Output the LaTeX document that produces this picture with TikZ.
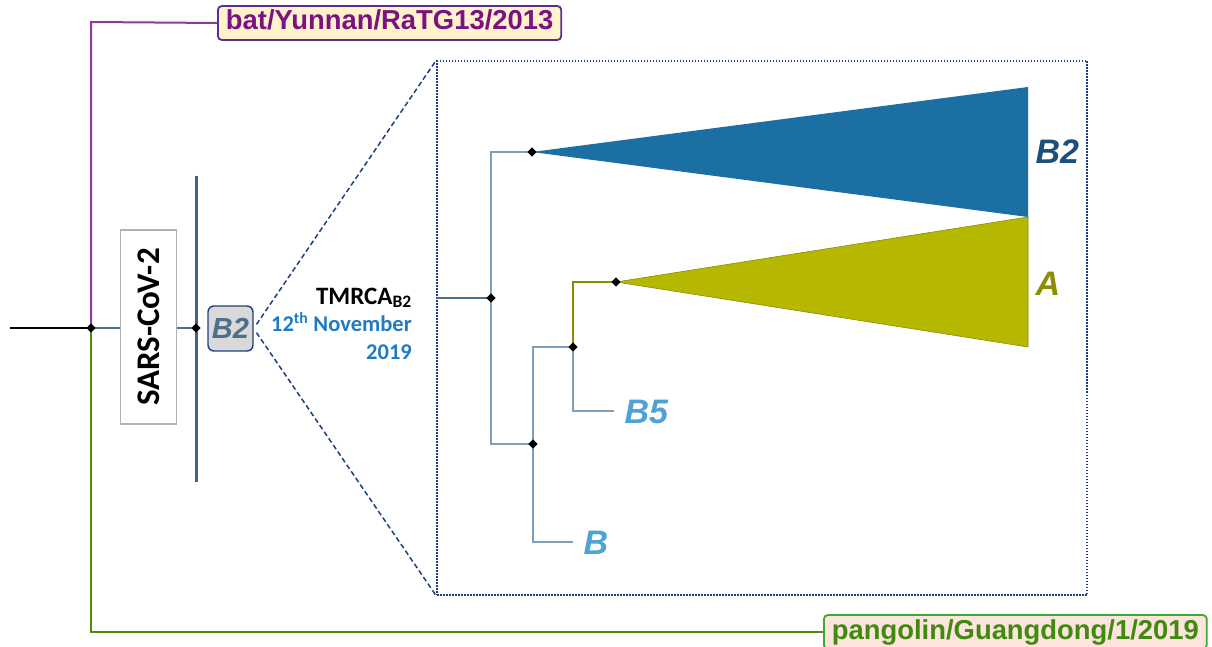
\documentclass[tikz,border=0pt]{standalone}
\usepackage{fontspec}
\setmainfont{Liberation Sans}
\newfontfamily\calibri{Carlito}
\usetikzlibrary{shapes.geometric}

\definecolor{treeline}{HTML}{7F9FB8}
\definecolor{stemline}{HTML}{4C6F8C}
\definecolor{barline}{HTML}{46647E}
\definecolor{batline}{HTML}{8B3D96}
\definecolor{battext}{HTML}{7B1280}
\definecolor{batedge}{HTML}{5B2D8F}
\definecolor{batfill}{HTML}{FFF2CC}
\definecolor{panline}{HTML}{4F8A10}
\definecolor{pantext}{HTML}{3F8A0F}
\definecolor{panedge}{HTML}{3AAA35}
\definecolor{panfill}{HTML}{FDE4DC}
\definecolor{navy}{HTML}{1F3F7F}
\definecolor{bluefill}{HTML}{1B6FA3}
\definecolor{bluelabel}{HTML}{1D4F7A}
\definecolor{olivefill}{HTML}{B6B800}
\definecolor{oliveedge}{HTML}{8C8C00}
\definecolor{olivelabel}{HTML}{8D8D00}
\definecolor{lightlabel}{HTML}{4FA3D4}
\definecolor{datetext}{HTML}{1F7BC4}
\definecolor{boxtext}{HTML}{4E6F8C}

\begin{document}
\begin{tikzpicture}[x=1pt,y=-1pt,
  dot/.style={diamond, fill=black, inner sep=0pt, minimum size=9.5pt},
  branch/.style={draw=treeline, line width=1.7pt},
  strainbox/.style={rounded corners=4pt, line width=1.8pt, inner xsep=8pt,
    inner ysep=4.5pt, text height=19.5pt, text depth=5.5pt,
    font=\bfseries\fontsize{27.4}{30}\selectfont},
  clade/.style={font=\bfseries\itshape\fontsize{34}{36}\selectfont, anchor=west},
]
\useasboundingbox (0,0) rectangle (1212,647);

% junctions of the outer tree
\coordinate (start) at (10,328);
\coordinate (root) at (91,328);
\coordinate (batcorner) at (91,22);
\coordinate (pancorner) at (91,632);
\coordinate (sars) at (196,328);
\coordinate (bartop) at (196,176);
\coordinate (barbot) at (196,482);

% outgroup strains
\node[strainbox, draw=batedge, fill=batfill, text=battext, anchor=west] (bat) at (217,23) {bat/Yunnan/RaTG13/2013};
\node[strainbox, draw=panedge, fill=panfill, text=pantext, anchor=west] (pan) at (823,632) {pangolin/Guangdong/1/2019};

\draw[line width=2pt] (start) -- (root);
\draw[batline, line width=2pt] (root) -- (batcorner) -- (bat.west);
\draw[panline, line width=2pt] (root) -- (pancorner) -- (pan.west);
\draw[stemline, line width=2pt] (root) -- (sars);
\draw[barline, line width=3pt] (bartop) -- (barbot);

% SARS-CoV-2 label on the stem
\node[draw=black!30, fill=white, line width=1.6pt, minimum width=56pt, minimum height=194pt, inner sep=0pt] (sarsbox) at (148.5,327) {};
\node[rotate=90, font=\calibri\bfseries\fontsize{33}{36}\selectfont] at (sarsbox.center) {SARS-CoV-2};

\node[dot] at (root) {};
\node[dot] at (sars) {};

% collapsed B2 lineage
\node[draw=navy, fill=black!15, rounded corners=6pt, line width=1.4pt, minimum width=45pt, minimum height=45pt, inner sep=0pt,
  text=boxtext, font=\bfseries\itshape\fontsize{29}{31}\selectfont] (b2box) at (230.5,328.5) {B2};

% expanded view
\node[draw=navy, line width=1.6pt, dash pattern=on 1.5pt off 1.5pt, minimum width=650pt, minimum height=534pt, inner sep=0pt] (frame) at (762,328) {};
\draw[navy, line width=1.5pt, dash pattern=on 5pt off 3pt, shorten <=5pt] (b2box.east) -- (frame.north west);
\draw[navy, line width=1.5pt, dash pattern=on 5pt off 3pt, shorten <=5pt] (b2box.east) -- (frame.south west);

% dating annotation
\node[anchor=base east, inner sep=0pt, font=\calibri\bfseries\fontsize{25}{28}\selectfont] (tmrca) at (412,304) {TMRCA\textsubscript{B2}};
\node[anchor=base east, inner sep=0pt, text=datetext, font=\calibri\bfseries\fontsize{22.5}{26}\selectfont] (date) at (412,331) {12\textsuperscript{th} November};
\node[anchor=base east, inner sep=0pt, text=datetext, font=\calibri\bfseries\fontsize{22.5}{26}\selectfont] (year) at (412,359) {2019};

% inner tree
\coordinate (in) at (437,298);
\coordinate (n0) at (491,298);
\coordinate (nB2) at (532,152);
\coordinate (n1) at (533,444);
\coordinate (n2) at (573,347);
\coordinate (nA) at (616,282);
\coordinate (tipB5) at (614,411);
\coordinate (tipB) at (573,542);
\coordinate (b2top) at (1028,87);
\coordinate (b2bot) at (1028,217);
\coordinate (abot) at (1028,347);

\fill[bluefill] (nB2) -- (b2top) -- (b2bot) -- cycle;
\filldraw[fill=olivefill, draw=oliveedge, line width=0.6pt] (nA) -- (b2bot) -- (abot) -- cycle;

\draw[stemline, line width=1.7pt] (in) -- (n0);
\draw[branch] (nB2) -| (n0) |- (n1);
\draw[branch] (n2) -| (n1) |- (tipB);
\draw[oliveedge, line width=1.7pt] (nA) -| (n2);
\draw[branch] (n2) |- (tipB5);

\foreach \p in {n0,nB2,n1,n2,nA} \node[dot] at (\p) {};

\node[clade, text=bluelabel] (lb2) at (1032,152) {B2};
\node[clade, text=olivelabel] (la) at (1032,284) {A};
\node[clade, text=lightlabel] (lb5) at (621,412) {B5};
\node[clade, text=lightlabel] (lb) at (580,543) {B};
\end{tikzpicture}
\end{document}
